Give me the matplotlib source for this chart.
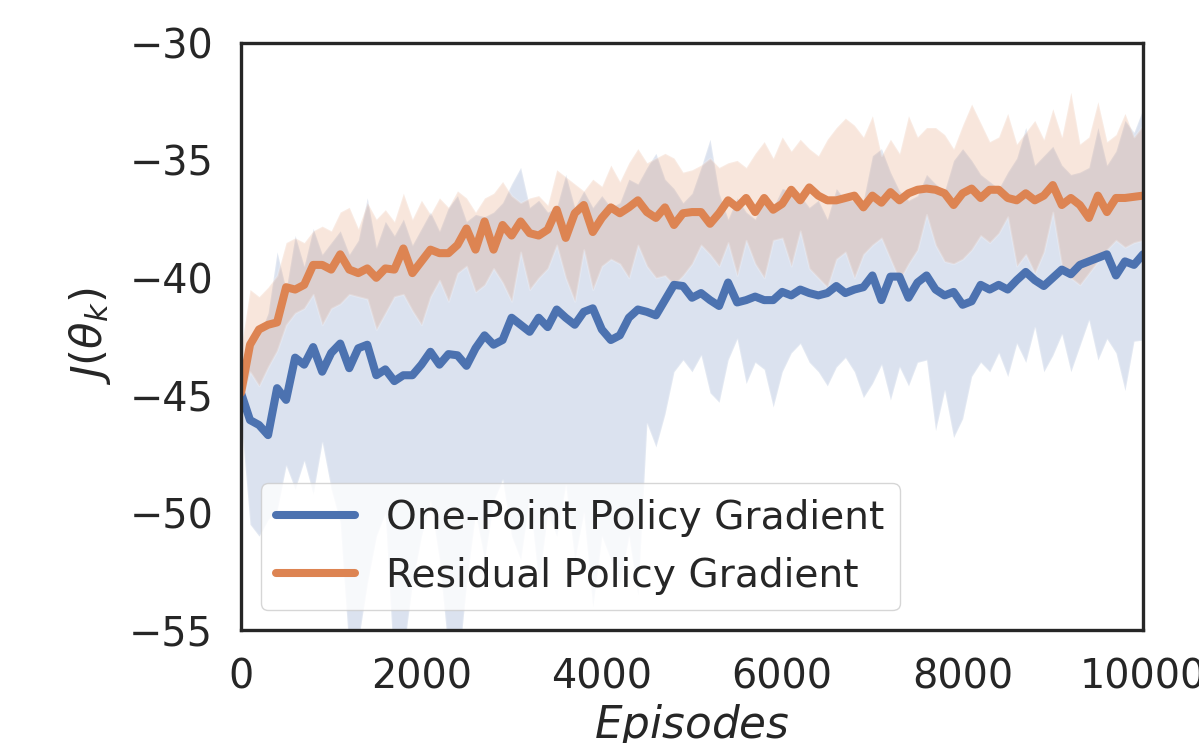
import numpy as np
import matplotlib
matplotlib.use("Agg")
import matplotlib.pyplot as plt

# episodes, one sample every 100
episodes = np.arange(0, 10001, 100)

one_point_mean = [
    -44.9, -46.06, -46.27, -46.7, -44.7, -45.2, -43.4, -43.7, -42.95, -44.0,
    -43.2, -42.8, -43.85, -43.0, -42.85, -44.15, -43.9, -44.4, -44.15, -44.15,
    -43.7, -43.15, -43.7, -43.25, -43.3, -43.75, -43.0, -42.45, -42.85, -42.65,
    -41.7, -42.0, -42.3, -41.7, -42.1, -41.35, -41.7, -42.0, -41.45, -41.3,
    -42.2, -42.65, -42.45, -41.7, -41.35, -41.45, -41.6, -40.95, -40.3, -40.35,
    -40.85, -40.65, -40.95, -41.2, -40.2, -41.05, -40.95, -40.8, -40.95, -40.95,
    -40.6, -40.75, -40.5, -40.65, -40.75, -40.65, -40.35, -40.65, -40.5, -40.4,
    -39.9, -40.95, -39.95, -39.95, -40.85, -40.2, -39.9, -40.5, -40.75, -40.6,
    -41.15, -41.0, -40.3, -40.5, -40.3, -40.5, -40.1, -39.75, -40.1, -40.35,
    -40.0, -39.65, -39.85, -39.45, -39.3, -39.15, -39.0, -39.9, -39.3, -39.45,
    -39.0,
]
one_point_low = [
    -46.0, -50.5, -51.0, -50.3, -49.9, -48.0, -49.0, -47.8, -49.2, -47.0,
    -49.0, -50.4, -56.0, -55.5, -53.0, -51.0, -50.0, -57.0, -56.0, -53.0,
    -51.0, -49.5, -52.0, -56.0, -57.0, -53.0, -50.0, -52.0, -49.5, -48.6,
    -51.0, -52.0, -49.3, -53.0, -50.0, -51.0, -48.8, -52.0, -50.0, -54.0,
    -51.0, -52.0, -53.0, -51.0, -53.5, -46.2, -47.2, -45.8, -44.0, -43.5,
    -44.0, -43.3, -44.9, -45.3, -43.5, -42.6, -44.5, -43.6, -43.9, -45.5,
    -44.0, -43.2, -42.8, -43.6, -44.0, -44.6, -43.8, -43.4, -44.0, -45.1,
    -44.5, -43.7, -45.2, -43.8, -44.6, -43.6, -43.5, -46.5, -44.8, -46.8,
    -46.0, -44.2, -43.6, -44.0, -43.2, -44.2, -42.8, -43.6, -42.1, -44.0,
    -43.3, -42.4, -44.0, -42.9, -41.8, -43.5, -42.6, -43.2, -44.8, -42.7,
    -42.65,
]
one_point_high = [
    -44.5, -43.0, -42.5, -41.5, -38.9, -40.5, -38.2, -39.5, -37.9, -39.0,
    -38.5, -38.0, -39.0, -38.4, -36.6, -38.7, -37.6, -38.2, -37.5, -38.6,
    -37.9, -37.2, -38.0, -37.0, -36.5, -37.6, -37.3, -37.4, -37.2, -36.8,
    -36.0, -35.3, -37.0, -36.7, -37.2, -37.0, -35.6, -37.0, -36.3, -37.0,
    -36.5, -37.0, -36.8, -35.8, -36.0, -35.3, -34.7, -35.8, -36.2, -36.8,
    -36.4, -35.3, -34.1, -36.4, -37.5, -36.6, -37.2, -37.5, -36.6, -37.0,
    -36.2, -36.3, -36.5, -37.0, -36.7, -37.5, -36.2, -36.7, -36.7, -36.7,
    -34.8, -34.5, -35.5, -36.3, -36.7, -36.5, -35.6, -36.0, -36.3, -35.0,
    -34.5, -35.0, -35.6, -35.9, -36.2, -35.5, -34.9, -33.6, -35.2, -34.8,
    -34.4, -35.2, -35.6, -35.5, -35.3, -33.6, -35.2, -34.6, -33.3, -33.8,
    -32.8,
]

residual_mean = [
    -44.9, -42.85, -42.2, -42.0, -41.9, -40.4, -40.5, -40.3, -39.45, -39.45,
    -39.65, -39.0, -39.65, -39.8, -39.6, -40.0, -39.6, -39.65, -38.75, -39.8,
    -39.3, -38.8, -38.95, -38.95, -38.6, -37.9, -38.8, -37.6, -38.8, -37.75,
    -38.2, -37.6, -38.1, -38.2, -37.95, -37.1, -38.3, -37.25, -36.9, -38.05,
    -37.45, -37.0, -37.25, -37.0, -36.7, -37.2, -37.45, -37.0, -37.75, -37.25,
    -37.2, -37.2, -37.7, -37.25, -36.7, -37.0, -36.6, -37.2, -36.6, -37.1,
    -36.85, -36.25, -36.7, -36.15, -36.5, -36.7, -36.7, -36.6, -36.5, -37.0,
    -36.5, -36.8, -36.35, -36.7, -36.4, -36.25, -36.2, -36.25, -36.4, -36.9,
    -36.4, -36.2, -36.6, -36.25, -36.25, -36.6, -36.7, -36.4, -36.7, -36.5,
    -36.05, -36.9, -36.6, -36.9, -37.45, -36.5, -37.2, -36.6, -36.6, -36.55,
    -36.5,
]
residual_low = [
    -45.5, -44.0, -44.6, -43.8, -43.1, -42.0, -41.5, -41.3, -40.7, -42.0,
    -41.3, -41.1, -40.7, -40.8, -40.9, -42.2, -41.5, -40.8, -40.7, -41.4,
    -42.0, -40.8, -40.1, -41.0, -39.8, -39.5, -40.6, -40.3, -39.6, -40.2,
    -41.0, -38.9, -40.5, -40.0, -39.6, -38.6, -40.0, -41.0, -38.8, -40.5,
    -39.5, -39.2, -39.4, -40.0, -38.6, -39.5, -40.0, -39.9, -40.3, -39.9,
    -39.4, -38.6, -39.0, -39.5, -38.5, -39.9, -38.4, -39.4, -40.0, -38.4,
    -38.3, -39.5, -38.0, -39.6, -40.0, -40.4, -39.2, -38.9, -40.0, -39.0,
    -38.6, -38.3, -39.2, -40.1, -39.4, -38.8, -37.3, -38.6, -39.3, -39.4,
    -39.2, -38.8, -38.2, -38.5, -38.1, -37.4, -39.5, -39.0, -39.8, -38.9,
    -37.2, -39.5, -40.0, -40.3, -39.8, -39.3, -38.8, -38.4, -38.7, -38.5,
    -38.4,
]
residual_high = [
    -43.0, -40.5, -40.8, -40.4, -39.9, -38.5, -38.3, -38.5, -38.0, -37.8,
    -38.0, -37.2, -37.0, -37.9, -36.8, -37.5, -37.1, -37.6, -36.4, -37.5,
    -36.7, -37.3, -36.6, -37.0, -36.3, -36.6, -37.2, -36.6, -36.4, -35.9,
    -36.5, -36.8, -36.6, -36.5, -36.9, -35.4, -35.7, -36.0, -36.3, -35.8,
    -36.1, -35.2, -35.9, -35.1, -34.5, -35.1, -34.9, -34.7, -34.9, -35.5,
    -35.4, -35.2, -34.9, -35.3, -35.1, -35.0, -35.3, -34.7, -34.2, -34.9,
    -34.0, -34.6, -34.1, -34.5, -34.8, -34.1, -33.6, -33.2, -33.5, -34.0,
    -33.1, -34.8, -34.1, -34.7, -33.1, -34.0, -33.6, -33.6, -33.9, -34.5,
    -33.5, -32.6, -33.4, -34.2, -34.0, -33.0, -34.3, -33.8, -33.3, -34.1,
    -32.8, -34.0, -32.1, -34.3, -34.0, -32.5, -34.2, -33.9, -33.0, -34.0,
    -33.5,
]

blue = "#4C72B0"
orange = "#DD8452"
dark = "#262626"

plt.rcParams["font.family"] = "DejaVu Sans"
plt.rcParams["mathtext.fontset"] = "dejavusans"

fig = plt.figure(figsize=(11.99, 7.43), dpi=100)
ax = fig.add_axes([0.2010, 0.1521, 0.7523, 0.7900])

ax.fill_between(episodes, one_point_low, one_point_high,
                color=blue, alpha=0.2, edgecolor="white", linewidth=1.5)
ax.fill_between(episodes, residual_low, residual_high,
                color=orange, alpha=0.2, edgecolor="white", linewidth=1.5)
ax.plot(episodes, one_point_mean, color=blue, linewidth=5.8,
        solid_capstyle="round", solid_joinstyle="round",
        label="One-Point Policy Gradient")
ax.plot(episodes, residual_mean, color=orange, linewidth=5.8,
        solid_capstyle="round", solid_joinstyle="round",
        label="Residual Policy Gradient")

ax.set_xlim(0, 10000)
ax.set_ylim(-55, -30)
ax.set_xticks(range(0, 10001, 2000))
ax.set_yticks(range(-55, -29, 5))
ax.tick_params(length=0, pad=20, labelsize=28.6, colors=dark)

for s in ax.spines.values():
    s.set_color(dark)
    s.set_linewidth(2.4)

ax.set_xlabel(r"$Episodes$", fontsize=31.5, color=dark, labelpad=3)
ax.set_ylabel(r"$J(\theta_k)$", fontsize=31.2, color=dark, labelpad=12)

leg = ax.legend(loc="lower left", fontsize=28.2, framealpha=0.8,
                fancybox=True)
for t in leg.get_texts():
    t.set_color(dark)
for h in leg.get_lines():
    h.set_linewidth(5.8)

fig.savefig("out.png", dpi=100)
